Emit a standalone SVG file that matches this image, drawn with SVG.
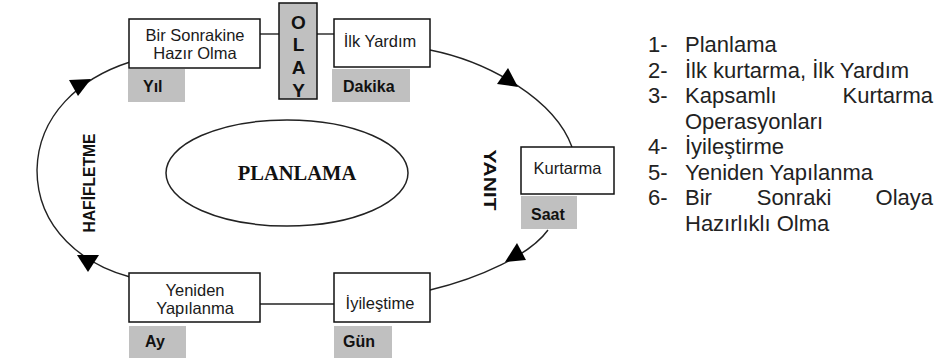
<svg xmlns="http://www.w3.org/2000/svg" width="951" height="361" viewBox="0 0 951 361">
<defs>
<style>
.box{fill:#fff;stroke:#111;stroke-width:1.5}
.lab{fill:#c0c0c0}
.t{font-family:"Liberation Sans",Arial,sans-serif;font-size:16.5px;fill:#1a1a1a;text-anchor:middle}
.g{font-family:"Liberation Sans",Arial,sans-serif;font-size:16px;font-weight:bold;fill:#111}
.o{font-family:"Liberation Sans",Arial,sans-serif;font-size:19px;font-weight:bold;fill:#111;text-anchor:middle}
.w{font-family:"Liberation Sans",Arial,sans-serif;font-size:17px;font-weight:bold;fill:#111;text-anchor:middle}
.l{font-family:"Liberation Sans",Arial,sans-serif;font-size:22px;fill:#222}
.c{fill:none;stroke:#222;stroke-width:1.4}
.a{fill:#000}
</style>
<clipPath id="olayclip"><rect x="279" y="3" width="38" height="95"/></clipPath>
</defs>
<rect width="951" height="361" fill="#fff"/>

<g id="connectors">
<line class="c" x1="260" y1="34" x2="279" y2="34"/>
<line class="c" x1="317" y1="34" x2="334" y2="34"/>
<line class="c" x1="260" y1="304" x2="334" y2="304"/>
<path class="c" d="M430,50 C490,62 555,100 572,147"/>
<path class="c" d="M548,230 C530,255 480,278 430,290"/>
<path class="c" d="M130,62 C80,78 38,115 37,170 C37,230 85,265 130,277"/>
<polygon class="a" points="69,80 91,79 78,96"/>
<polygon class="a" points="508,68 497,84 518,87"/>
<polygon class="a" points="517,243 505,262 526,260"/>
<polygon class="a" points="77,255 99,255 88,272"/>
</g>

<g id="planlama">
<ellipse cx="287" cy="173" rx="121" ry="53" fill="none" stroke="#222" stroke-width="1.5"/>
<text x="297" y="180" font-family="'Liberation Serif','Times New Roman',serif" font-size="20.5" font-weight="bold" fill="#111" text-anchor="middle">PLANLAMA</text>
</g>

<g id="olay">
<rect x="279" y="3" width="38" height="96" fill="#c0c0c0" stroke="#111" stroke-width="1.5"/>
<g clip-path="url(#olayclip)">
<text class="o" x="298.5" y="29">O</text>
<text class="o" x="298.5" y="51">L</text>
<text class="o" x="298.5" y="74">A</text>
<text class="o" x="298.5" y="97">Y</text>
</g>
</g>

<g id="hazir">
<rect class="box" x="129" y="19" width="131" height="49"/>
<text class="t" x="195" y="41">Bir Sonrakine</text>
<text class="t" x="195" y="59">Hazır Olma</text>
<rect class="lab" x="128" y="69" width="57" height="33"/>
<text class="g" x="143" y="92">Yıl</text>
</g>

<g id="ilkyardim">
<rect class="box" x="334" y="19" width="96" height="48"/>
<text class="t" x="380" y="47">İlk Yardım</text>
<rect class="lab" x="332" y="69" width="78" height="33"/>
<text class="g" x="343" y="92">Dakika</text>
</g>

<g id="kurtarma">
<rect class="box" x="521" y="147" width="93" height="47"/>
<text class="t" x="567.5" y="174">Kurtarma</text>
<rect class="lab" x="521" y="196" width="56" height="33"/>
<text class="g" x="531" y="220">Saat</text>
</g>

<g id="iyilestirme">
<rect class="box" x="334" y="273" width="96" height="49"/>
<text class="t" x="380" y="309">İyileştime</text>
<rect class="lab" x="334" y="326" width="58" height="32"/>
<text class="g" x="343" y="347">Gün</text>
</g>

<g id="yeniden">
<rect class="box" x="129" y="273" width="131" height="49"/>
<text class="t" x="195" y="296">Yeniden</text>
<text class="t" x="195" y="314">Yapılanma</text>
<rect class="lab" x="129" y="326" width="57" height="32"/>
<text class="g" x="145" y="347">Ay</text>
</g>

<g id="hafifletme">
<text class="w" transform="translate(95,183) rotate(-90)" textLength="99" lengthAdjust="spacingAndGlyphs">HAFİFLETME</text>
</g>

<g id="yanit">
<text class="w" transform="translate(484,180) rotate(90)" textLength="61" lengthAdjust="spacingAndGlyphs">YANIT</text>
</g>

<g id="liste">
<text class="l" x="648" y="52">1-</text><text class="l" x="685" y="52">Planlama</text>
<text class="l" x="648" y="77.5">2-</text><text class="l" x="685" y="77.5">İlk kurtarma, İlk Yardım</text>
<text class="l" x="648" y="103">3-</text><text class="l" x="685" y="103">Kapsamlı</text><text class="l" x="933" y="103" text-anchor="end">Kurtarma</text>
<text class="l" x="685" y="128.5">Operasyonları</text>
<text class="l" x="648" y="154">4-</text><text class="l" x="685" y="154">İyileştirme</text>
<text class="l" x="648" y="179.5">5-</text><text class="l" x="685" y="179.5">Yeniden Yapılanma</text>
<text class="l" x="648" y="205">6-</text><text class="l" x="685" y="205">Bir</text><text class="l" x="794" y="205" text-anchor="middle">Sonraki</text><text class="l" x="933" y="205" text-anchor="end">Olaya</text>
<text class="l" x="685" y="230.5">Hazırlıklı Olma</text>
</g>
</svg>
